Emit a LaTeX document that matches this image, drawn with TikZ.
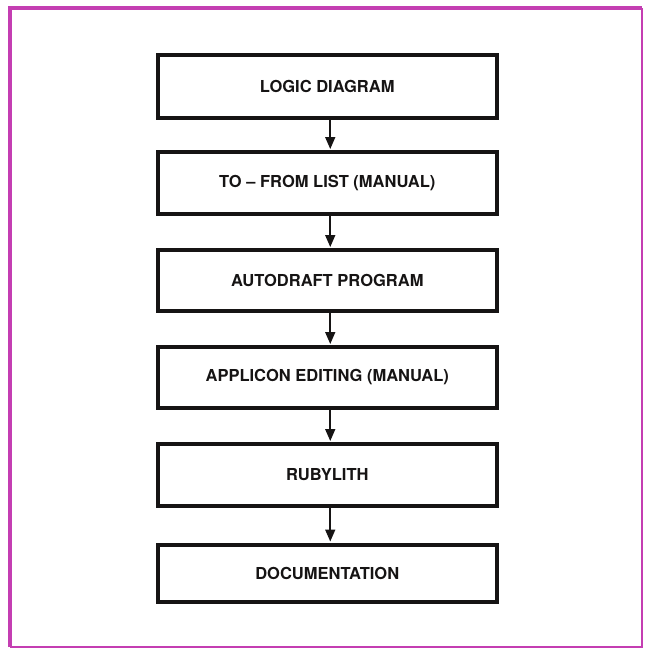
\documentclass[tikz,border=0pt]{standalone}
\usepackage{fontspec}
\setmainfont{TeX Gyre Heros}
\usetikzlibrary{arrows.meta}
\definecolor{framemag}{RGB}{196,62,178}
\definecolor{ink}{RGB}{22,20,20}
\begin{document}
\begin{tikzpicture}[x=1pt,y=-1pt,
  stepbox/.style={draw=ink,line width=4pt,minimum width=339.5pt,minimum height=61pt,
    inner sep=0pt,font=\fontsize{16.5}{18}\selectfont\bfseries,text=ink},
  flow/.style={draw=ink,line width=1.6pt,-{Triangle[length=12pt,width=10pt]},shorten >=1pt}]
\useasboundingbox (0,0) rectangle (645,649);
\fill[white] (0,0) rectangle (645,649);
% frame
\draw[framemag,line width=4pt] (9.5,647) -- (9.5,8) -- (642,8);
\draw[framemag,line width=2pt] (642,8) -- (642,647) -- (9.5,647);
% boxes
\node[stepbox,minimum height=63pt] (b1) at (327.25,86.5) {LOGIC DIAGRAM};
\node[stepbox,minimum height=62pt] (b2) at (327.25,183) {TO -- FROM LIST (MANUAL)};
\node[stepbox] (b3) at (327.25,280.5) {AUTODRAFT PROGRAM};
\node[stepbox] (b4) at (327.25,377.5) {APPLICON EDITING (MANUAL)};
\node[stepbox,minimum height=62pt] (b5) at (327.25,475) {RUBYLITH};
\node[stepbox,minimum height=57pt] (b6) at (327.25,573) {DOCUMENTATION};
% connectors
\foreach \a/\b in {b1/b2,b2/b3,b3/b4,b4/b5,b5/b6}
  \draw[flow] ([xshift=3pt]\a.south) -- ([xshift=3pt]\b.north);
\end{tikzpicture}
\end{document}
